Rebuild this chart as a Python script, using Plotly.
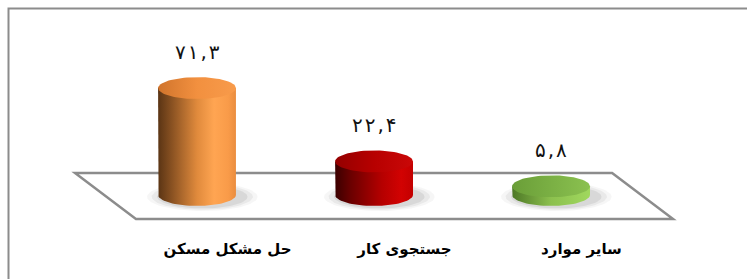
import numpy as np
import plotly.graph_objects as go

categories = ["حل مشکل مسکن", "جستجوی کار", "سایر موارد"]
values = [71.3, 22.4, 5.8]

body_scales = [
    [[0, '#5a3414'], [0.18, '#8a5222'], [0.5, '#e08a3c'], [0.72, '#ffa552'], [0.9, '#f99b49'], [1, '#ea8d3f']],
    [[0, '#3a0000'], [0.2, '#6a0000'], [0.6, '#b50000'], [0.85, '#d20202'], [1, '#c30000']],
    [[0, '#4d7826'], [0.5, '#8cc04e'], [1, '#a0d85e']],
]
top_scales = [
    [[0, '#d0742c'], [0.5, '#f2903f'], [1, '#f89b4b']],
    [[0, '#940000'], [0.5, '#b70000'], [1, '#ca0808']],
    [[0, '#6a9e38'], [1, '#8bc150']],
]

W = 0.22      # cylinder half width (x units)
H = 7.3       # ellipse half height (y units)
SKEW = 0.172  # floor perspective shift
HALFW = 1.517
FLOOR_BACK, FLOOR_FRONT = 14.7, -16.0


def to_fa(v):
    digits = "۰۱۲۳۴۵۶۷۸۹"
    s = f"{v:.1f}".replace(".", ",")
    return "\u200a".join(digits[int(ch)] if ch.isdigit() else ch for ch in s)


fig = go.Figure()
t_full = np.linspace(0, 2 * np.pi, 80)
t_front = np.linspace(np.pi, 2 * np.pi, 40)

for i, v in enumerate(values):
    c = i
    # shadow
    for sx, sy, a in [(1.42, 1.3, 0.035), (1.3, 1.18, 0.05), (1.16, 1.06, 0.07)]:
        fig.add_trace(go.Scatter(
            x=c + 0.03 + W * sx * np.cos(t_full), y=-1.2 + H * sy * np.sin(t_full),
            fill='toself', mode='lines', line=dict(width=0),
            fillcolor=f'rgba(0,0,0,{a})', hoverinfo='skip', showlegend=False))
    # body
    bx = np.concatenate([[c - W, c - W], c + W * np.cos(t_front), [c + W, c + W]])
    by = np.concatenate([[v, 0], H * np.sin(t_front), [0, v]])
    fig.add_trace(go.Scatter(
        x=bx, y=by, fill='toself', mode='lines', line=dict(width=0),
        fillgradient=dict(type='horizontal', colorscale=body_scales[i]),
        hoverinfo='skip', showlegend=False))
    # top
    fig.add_trace(go.Scatter(
        x=c + W * np.cos(t_full), y=v + H * np.sin(t_full),
        fill='toself', mode='lines', line=dict(width=0),
        fillgradient=dict(type='horizontal', colorscale=top_scales[i]),
        hoverinfo='skip', showlegend=False))
    fig.add_annotation(x=c, y=v, yshift=36, text=to_fa(v), showarrow=False,
                       font=dict(family='DejaVu Sans', size=20, color='#111111'))

mid = (len(values) - 1) / 2
floor_path = (f"M {mid - SKEW - HALFW},{FLOOR_BACK} L {mid - SKEW + HALFW},{FLOOR_BACK} "
              f"L {mid + SKEW + HALFW},{FLOOR_FRONT} L {mid + SKEW - HALFW},{FLOOR_FRONT} Z")
fig.add_shape(type='path', path=floor_path, xref='x', yref='y', layer='below',
              line=dict(color='#8c8c8c', width=2.5))

fig.add_shape(type='rect', xref='paper', yref='paper', x0=8.5 / 747, x1=1.05,
              y0=-0.3, y1=1 - 8.5 / 238, line=dict(color='#8c8c8c', width=2))

fig.update_layout(
    width=747, height=279, margin=dict(l=0, r=0, t=0, b=41),
    paper_bgcolor='white', plot_bgcolor='white',
    xaxis=dict(range=[-1.113, 3.107], showgrid=False, zeroline=False, showline=False,
               tickvals=[i + SKEW for i in range(len(categories))],
               ticktext=[f"<b>{c}</b>" for c in categories],
               ticks='', tickfont=dict(family='DejaVu Sans', size=15, color='#000000'),
               fixedrange=True),
    yaxis=dict(range=[-28.67, 130], visible=False, fixedrange=True),
    showlegend=False,
)

fig.write_html("out.html", post_script="document.body.style.margin='0';",
               config={'displayModeBar': False})
